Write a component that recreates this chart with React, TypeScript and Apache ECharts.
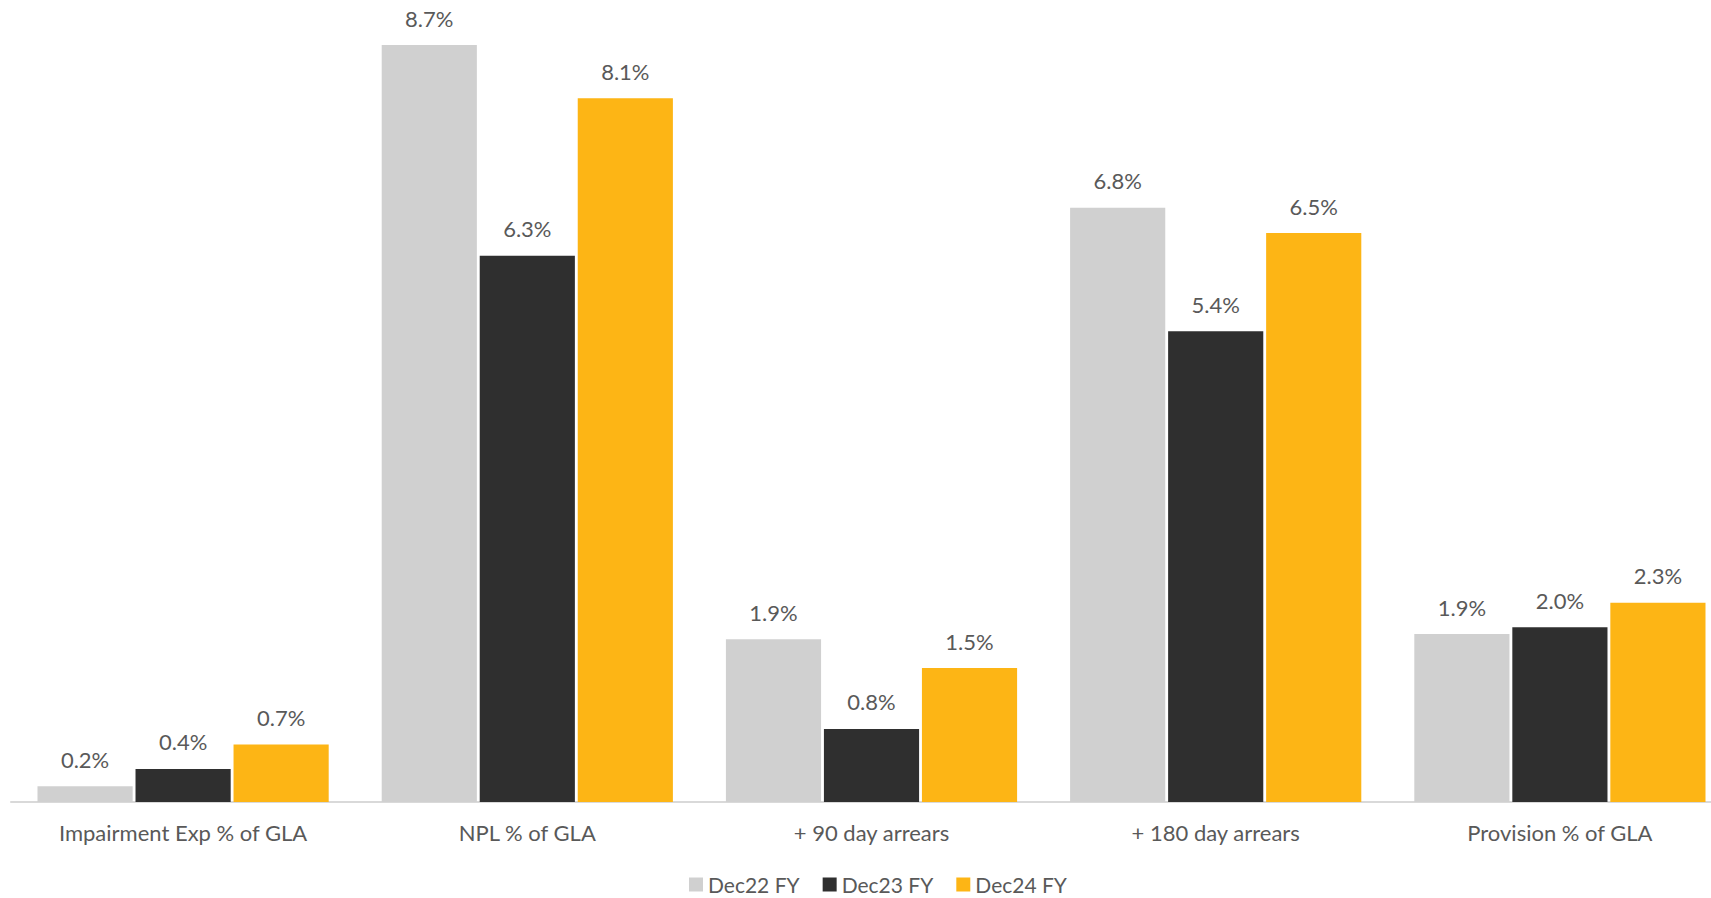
import React, { useEffect, useRef } from "react";
import * as echarts from "echarts";

const categories = [
  "Impairment Exp % of GLA",
  "NPL % of GLA",
  "+ 90 day arrears",
  "+ 180 day arrears",
  "Provision % of GLA",
];
const seriesNames = ["Dec22 FY", "Dec23 FY", "Dec24 FY"];
const dec22 = [0.18, 8.7, 1.87, 6.83, 1.93];
const dec23 = [0.38, 6.28, 0.84, 5.41, 2.01];
const dec24 = [0.66, 8.09, 1.54, 6.54, 2.29];
const colors = ["#D0D0D0", "#2F2F2F", "#FDB515"];

const FONT = "Lato";
const TEXT = "#595959";

export default function App() {
  const ref = useRef<HTMLDivElement>(null);
  useEffect(() => {
    if (!ref.current) return;
    const chart = echarts.init(ref.current, undefined, { renderer: "svg" });
    const values = [dec22, dec23, dec24];
    chart.setOption({
      animation: false,
      backgroundColor: "#ffffff",
      textStyle: { fontFamily: FONT },
      grid: {
        left: 11,
        right: -21,
        top: 19,
        bottom: 96,
        containLabel: false,
        outerBoundsMode: "none",
      },
      legend: {
        top: 869,
        left: 684,
        itemWidth: 14,
        itemHeight: 14,
        itemGap: 23,
        icon: "rect",
        textStyle: { fontFamily: FONT, fontSize: 21, color: TEXT },
        data: seriesNames,
      },
      xAxis: {
        type: "category",
        data: categories,
        axisLine: { show: true, lineStyle: { color: "#D9D9D9", width: 2 } },
        axisTick: { show: false },
        axisLabel: { fontFamily: FONT, fontSize: 22, color: TEXT, margin: 19 },
      },
      yAxis: {
        type: "value",
        min: 0,
        max: 9,
        show: false,
        splitLine: { show: false },
      },
      series: seriesNames.map((name, i) => ({
        name,
        type: "bar",
        data: values[i],
        itemStyle: { color: colors[i] },
        barGap: "3%",
        barCategoryGap: "15.4%",
        label: {
          show: true,
          position: "top",
          distance: 16,
          fontFamily: FONT,
          fontSize: 22,
          color: TEXT,
          formatter: (p: any) => p.value.toFixed(1) + "%",
        },
      })),
    });
    return () => chart.dispose();
  }, []);
  return (
    <div
      ref={ref}
      style={{ position: "fixed", left: 0, top: 0, width: 1711, height: 898 }}
    />
  );
}
